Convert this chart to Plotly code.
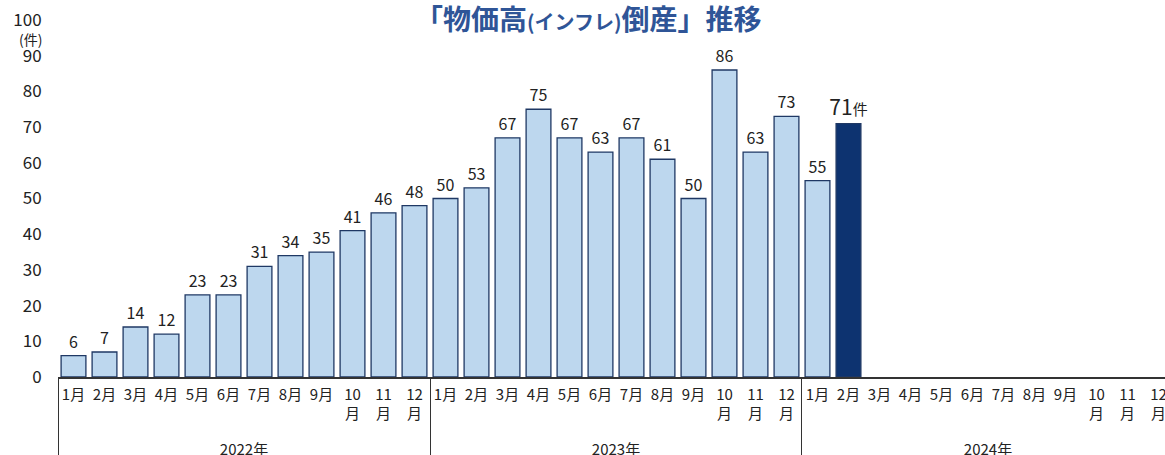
import plotly.graph_objects as go

years = ["2022年"] * 12 + ["2023年"] * 12 + ["2024年"] * 12
pad = "<br><span style='font-size:1px'>\u00a0</span>"
months = ["1月", "2月", "3月", "4月", "5月", "6月", "7月", "8月", "9月",
          "10<br>月" + pad, "11<br>月" + pad, "12<br>月" + pad] * 3
values_2022 = [6, 7, 14, 12, 23, 23, 31, 34, 35, 41, 46, 48]
values_2023 = [50, 53, 67, 75, 67, 63, 67, 61, 50, 86, 63, 73]
values_2024 = [55, 71]
values = values_2022 + values_2023 + values_2024 + [None] * 10

n_known = len(values_2022) + len(values_2023) + len(values_2024)
fills = ["#BDD7EE"] * (n_known - 1) + ["#0D3370"] + ["#BDD7EE"] * (36 - n_known)
texts = [str(v) for v in values[: n_known - 1]] + \
        ["<span style='font-size:21px'>%d</span><span style='font-size:15px'>件</span>" % values[n_known - 1]] + \
        [""] * (36 - n_known)

FONT = "Noto Sans CJK JP"

fig = go.Figure(go.Bar(
    x=[years, months],
    y=values,
    marker=dict(color=fills, line=dict(color="#1F3864", width=1.3)),
    text=texts,
    textposition="outside",
    constraintext="none",
    textfont=dict(family=FONT, size=16, color="#222222"),
    cliponaxis=False,
    hoverinfo="skip",
))

fig.update_layout(
    width=1165, height=455,
    margin=dict(l=58, r=0, t=20, b=78),
    plot_bgcolor="white", paper_bgcolor="white",
    bargap=0.2,
    showlegend=False,
    font=dict(family=FONT, size=15, color="#222222"),
    title=dict(
        text="「物価高<span style='font-size:20px'>(インフレ)</span>倒産」推移",
        font=dict(family=FONT, size=28, color="#2F5597", weight="bold"),
        x=0.505, xanchor="center", y=0.955, yanchor="middle",
    ),
    xaxis=dict(
        type="multicategory",
        range=[-0.5, 35.21],
        automargin=False,
        tickangle=0,
        ticklabelstandoff=3,
        showline=True, linecolor="#333333", linewidth=1.5,
        showdividers=True, dividercolor="#333333", dividerwidth=1.3,
        tickfont=dict(family=FONT, size=15, color="#222222"),
        ticks="",
    ),
    yaxis=dict(
        range=[0, 100],
        dtick=10,
        automargin=False,
        showgrid=False, zeroline=False, showline=False,
        ticks="outside", ticklen=12, tickcolor="rgba(0,0,0,0)",
        tickfont=dict(family=FONT, size=17, color="#222222"),
    ),
    annotations=[dict(
        text="(件)", xref="paper", yref="y", x=0, y=100,
        xanchor="right", yanchor="top", xshift=-14, yshift=-7,
        showarrow=False, font=dict(family=FONT, size=14, color="#222222"),
    )],
)

fig.write_html("out.html", config={"displayModeBar": False},
               post_script="document.body.style.margin='0';")
